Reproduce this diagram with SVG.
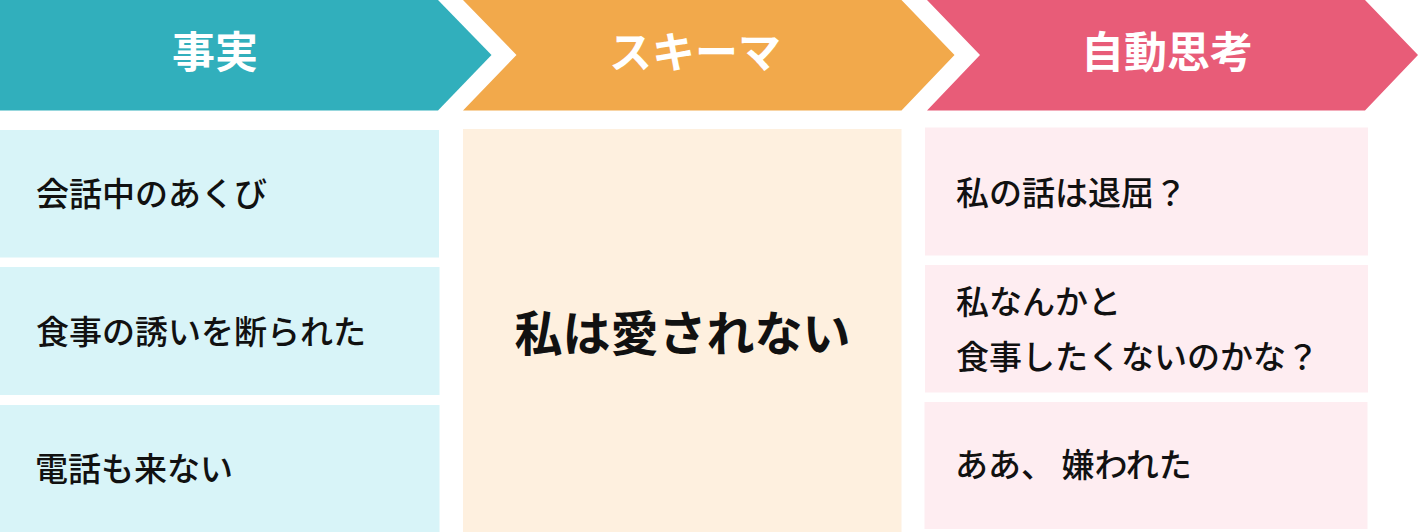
<svg xmlns="http://www.w3.org/2000/svg" width="1423" height="532" viewBox="0 0 1423 532">
<style>
.hd{font-family:"Noto Sans CJK JP","Noto Sans",sans-serif;font-size:43px;font-weight:700;fill:#ffffff;text-anchor:middle}
.tx{font-family:"Noto Sans CJK JP","Noto Sans",sans-serif;font-size:33px;font-weight:500;fill:#111111}
.big{font-family:"Noto Sans CJK JP","Noto Sans",sans-serif;font-size:48px;font-weight:700;fill:#111111;text-anchor:middle}
.t1{fill:#31AFBC}.t2{fill:#D8F4F8}
.o1{fill:#F2A94B}.o2{fill:#FEF0DF}
.p1{fill:#E85C78}.p2{fill:#FEEDF1}
</style>
<rect width="1423" height="532" fill="#ffffff"/>
<g id="header-fact">
<polygon class="t1" points="0,0 438,0 491.5,55 438,110.5 0,110.5"/>
<text class="hd" x="215" y="68">事実</text>
</g>
<g id="header-schema">
<polygon class="o1" points="463,0 901.5,0 954.5,55 901.5,110.5 463,110.5 516.5,55"/>
<text class="hd" x="695" y="68">スキーマ</text>
</g>
<g id="header-auto">
<polygon class="p1" points="927,0 1365,0 1418,55 1365,110.5 927,110.5 980,55"/>
<text class="hd" x="1167" y="68">自動思考</text>
</g>
<g id="fact-1">
<rect class="t2" x="0" y="130" width="439" height="127.5"/>
<text class="tx" x="36" y="206">会話中のあくび</text>
</g>
<g id="fact-2">
<rect class="t2" x="0" y="267" width="439.5" height="128"/>
<text class="tx" x="36" y="343.5">食事の誘いを断られた</text>
</g>
<g id="fact-3">
<rect class="t2" x="0" y="405" width="439.5" height="127"/>
<text class="tx" x="35" y="480.5">電話も来ない</text>
</g>
<g id="schema">
<rect class="o2" x="463" y="129" width="438.5" height="403"/>
<text class="big" x="682.5" y="350.5">私は愛されない</text>
</g>
<g id="auto-1">
<rect class="p2" x="925" y="127.5" width="443" height="128"/>
<text class="tx" x="956" y="205">私の話は退屈？</text>
</g>
<g id="auto-2">
<rect class="p2" x="925" y="265" width="443" height="127.5"/>
<text class="tx" x="956" y="314">私なんかと</text>
<text class="tx" x="956" y="368.5">食事したくないのかな？</text>
</g>
<g id="auto-3">
<rect class="p2" x="924.5" y="402" width="443" height="127"/>
<text class="tx" x="955" y="476.5">ああ、 嫌われた</text>
</g>
<g id="connectors"></g>
</svg>
